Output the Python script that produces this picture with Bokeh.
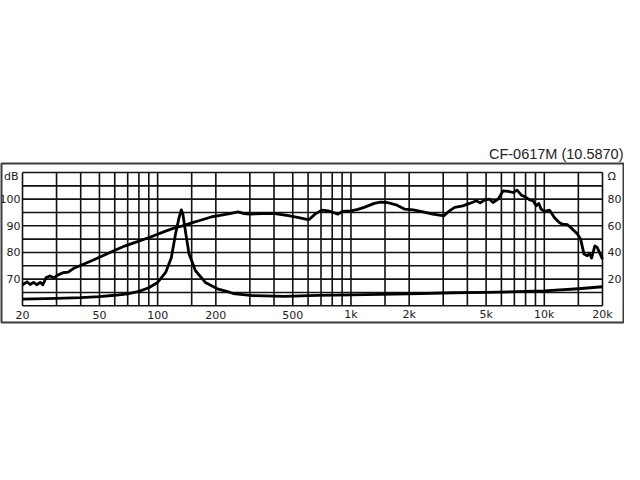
from bokeh.plotting import figure
from bokeh.models import Range1d
from bokeh.embed import file_html
from bokeh.resources import INLINE
from bokeh.core.properties import value

# ---------------- data ----------------
title_text = "CF-0617M (10.5870)"

spl_freq = [20, 21.1, 21.9, 22.8, 23.7, 24.7, 25.5, 26.5, 27.7, 29.0, 30.6, 32.4, 34.5,
            37.1, 41.0, 45.9, 51.7, 60.6, 68.0, 75.3, 91.2, 110.8, 124.6, 134.6, 150,
            163.6, 190.9, 210.5, 236, 261, 280, 299, 348, 404, 474, 537, 591, 608, 652,
            707, 763, 810, 856, 904, 1000, 1085, 1170, 1320, 1420, 1540, 1730, 1900, 2100,
            2360, 2650, 3030, 3200, 3440, 3790, 4110, 4450, 4660, 4920, 5220, 5430, 5770,
            6120, 6500, 6890, 7230, 7590, 8070, 8400, 8740, 9080, 9370, 9630, 10020, 10630,
            11270, 11950, 12420, 13180, 13990, 14840, 15420, 16040, 16680, 17140, 17560,
            18260, 18770, 19290, 20000]
spl_db = [67.9, 69.0, 68.0, 68.8, 67.9, 68.8, 67.9, 70.6, 71.2, 70.5, 71.6, 72.4, 72.6,
          74.2, 75.5, 77.0, 78.7, 80.9, 82.5, 83.6, 85.7, 88.1, 89.4, 90.0, 91.1,
          91.9, 93.4, 93.9, 94.6, 95.2, 94.6, 94.4, 94.6, 94.6, 93.8, 93.1, 92.4, 92.4, 94.4,
          95.9, 95.6, 95.0, 94.4, 95.4, 95.6, 96.2, 96.9, 98.4, 98.9, 98.75, 97.75, 96.25, 96.0,
          95.25, 94.4, 93.75, 95.4, 96.9, 97.5, 98.4, 99.4, 98.6, 99.75, 100.0, 98.75, 100.0,
          103.1, 102.9, 102.5, 103.4, 101.6, 100.6, 99.75, 99.4, 97.5, 98.4, 96.25, 95.4, 95.9,
          93.1, 91.25, 90.6, 90.4, 88.75, 86.9, 85.0, 79.4, 78.75, 79.6, 77.9,
          82.5, 81.9, 80.0, 77.5]

imp_freq = [20, 30, 40, 50, 60, 70, 80, 90, 100, 110, 117.7, 123.8, 129, 132.5, 135,
            139.9, 145.3, 157, 176.6, 206, 230, 246, 310, 454, 674, 1000, 2000, 3400,
            5000, 8000, 10000, 15000, 20000]
imp_ohm = [5.0, 5.5, 6.1, 6.9, 7.9, 9.0, 10.8, 13.5, 17.5, 25, 36, 54, 66, 72, 69,
           54, 39, 26.3, 17.5, 12.5, 10.6, 9.2, 7.6, 7.0, 7.8, 8.2, 9.0, 9.8,
           10.0, 10.8, 11.2, 12.8, 14.3]

grid_freqs = [20, 30, 40, 50, 60, 70, 80, 90, 100, 150, 200, 300, 400, 500, 600, 700,
              800, 900, 1000, 1500, 2000, 3000, 4000, 5000, 6000, 7000, 8000, 9000,
              10000, 15000, 20000]
db_lines = [60, 65, 70, 75, 80, 85, 90, 95, 100, 105, 110]

x_tick_values = [20, 50, 100, 200, 500, 1000, 2000, 5000, 10000, 20000]
x_tick_labels = ["20", "50", "100", "200", "500", "1k", "2k", "5k", "10k", "20k"]
db_tick_values = [70, 80, 90, 100]
db_tick_labels = ["70", "80", "90", "100"]
ohm_tick_values = [20, 40, 60, 80]
ohm_tick_labels = ["20", "40", "60", "80"]
db_unit = "dB"
ohm_unit = "Ω"

# ---------------- layout (pixels inside the figure) ----------------
W, H = 624, 464
frame_l, frame_r = 1, 623
frame_t, frame_b = 163, 322
inner_l, inner_r = 22, 602
inner_t, inner_b = 172, 305.3

f_lo, f_hi = grid_freqs[0], grid_freqs[-1]
db_lo, db_hi = db_lines[0], db_lines[-1]
decade_px = (inner_r - inner_l) / 3.0
x_start = f_lo * 10 ** (-(inner_l - frame_l) / decade_px)
x_end = f_hi * 10 ** ((frame_r - inner_r) / decade_px)
db_px = (inner_b - inner_t) / (db_hi - db_lo)
y_end = db_hi + (inner_t - frame_t) / db_px
y_start = db_lo - (frame_b - inner_b) / db_px
# impedance scale: 0 ohm at bottom line, 100 ohm at top line
ohm_per_db = 100.0 / (db_hi - db_lo)
ohm_start = (y_start - db_lo) * ohm_per_db
ohm_end = (y_end - db_lo) * ohm_per_db

p = figure(width=W, height=H, x_axis_type="log",
           x_range=Range1d(x_start, x_end), y_range=Range1d(y_start, y_end),
           x_axis_location=None, y_axis_location=None,
           min_border_left=frame_l, min_border_right=W - frame_r,
           min_border_top=frame_t, min_border_bottom=H - frame_b,
           toolbar_location=None, output_backend="svg", title=title_text)
p.extra_y_ranges = {"ohm": Range1d(ohm_start, ohm_end)}
p.xgrid.visible = False
p.ygrid.visible = False
p.background_fill_color = "white"
p.border_fill_color = "white"
p.outline_line_color = "#3c3c3c"
p.outline_line_width = 2

p.title.align = "right"
p.title.text_font = "Liberation Sans"
p.title.text_font_size = "14.5px"
p.title.text_font_style = "normal"
p.title.text_color = "#222222"
p.title.standoff = 4
p.title.offset = 0

gcol = "#111111"
p.segment(x0=grid_freqs, y0=[db_lo] * len(grid_freqs), x1=grid_freqs,
          y1=[db_hi] * len(grid_freqs), line_color=gcol, line_width=1.6)
p.segment(x0=[f_lo] * len(db_lines), y0=db_lines, x1=[f_hi] * len(db_lines),
          y1=db_lines, line_color=gcol, line_width=1.6)

p.line(spl_freq, spl_db, line_color="black", line_width=2.8, line_join="round")
p.line(imp_freq, imp_ohm, y_range_name="ohm", line_color="black", line_width=2.8,
       line_join="round")

font = value("DejaVu Sans")
fs = "11px"
tc = "#222222"
p.text(x=[f_lo] * len(db_tick_values), y=db_tick_values, text=db_tick_labels,
       x_offset=-2, text_align="right", text_baseline="middle",
       text_font=font, text_font_size=fs, text_color=tc)
p.text(x=[f_lo], y=[db_hi], text=[db_unit], x_offset=-4, y_offset=4,
       text_align="right", text_baseline="middle",
       text_font=font, text_font_size=fs, text_color=tc)
p.text(x=[f_hi] * len(ohm_tick_values), y=ohm_tick_values, text=ohm_tick_labels,
       y_range_name="ohm", x_offset=5, text_align="left", text_baseline="middle",
       text_font=font, text_font_size=fs, text_color=tc)
p.text(x=[f_hi], y=[100], text=[ohm_unit], y_range_name="ohm", x_offset=5, y_offset=4,
       text_align="left", text_baseline="middle",
       text_font=font, text_font_size=fs, text_color=tc)
p.text(x=x_tick_values, y=[db_lo] * len(x_tick_values), text=x_tick_labels,
       y_offset=9, text_align="center", text_baseline="middle",
       text_font=font, text_font_size=fs, text_color=tc)

open("out.html", "w").write(file_html(p, INLINE))
